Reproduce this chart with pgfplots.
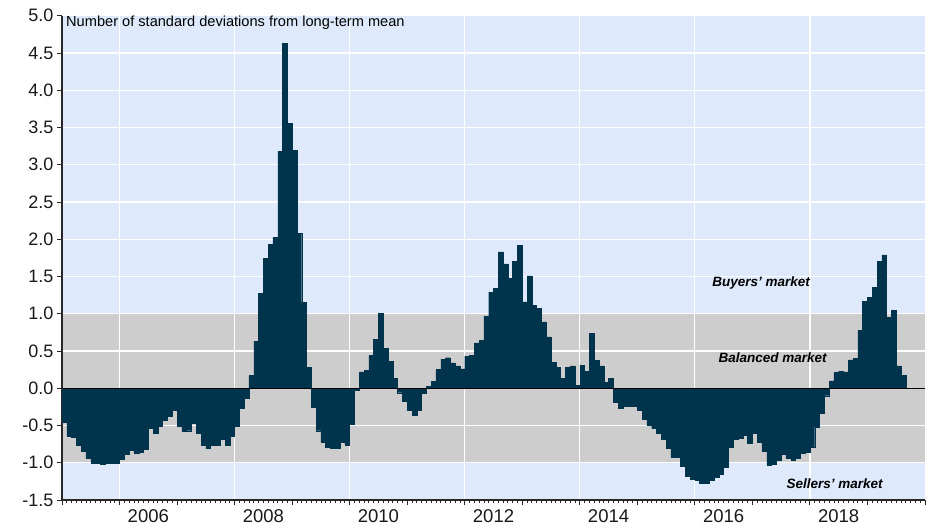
\documentclass[border=0pt]{standalone}
\usepackage{fontspec}
\setmainfont{Liberation Sans}
\usepackage{pgfplots}
\usepackage{pgfplotstable}
\pgfplotsset{compat=1.18}
\definecolor{barc}{RGB}{0,51,76}
\definecolor{lblue}{RGB}{222,234,251}
\definecolor{lgray}{RGB}{205,205,205}
\definecolor{axc}{RGB}{40,40,40}
% monthly values, i = months since Jan 2005
\pgfplotstableread{
i v
0 -0.46
1 -0.64
2 -0.66
3 -0.77
4 -0.85
5 -0.94
6 -1.00
7 -1.00
8 -1.02
9 -1.01
10 -1.00
11 -1.00
12 -0.95
13 -0.89
14 -0.83
15 -0.87
16 -0.86
17 -0.82
18 -0.54
19 -0.60
20 -0.51
21 -0.43
22 -0.37
23 -0.30
24 -0.51
25 -0.58
26 -0.57
27 -0.47
28 -0.60
29 -0.76
30 -0.81
31 -0.76
32 -0.77
33 -0.69
34 -0.77
35 -0.64
36 -0.51
37 -0.27
38 -0.13
39 0.17
40 0.63
41 1.27
42 1.74
43 1.93
44 2.03
45 3.18
46 4.63
47 3.56
48 3.19
49 2.08
50 1.15
51 0.28
52 -0.25
53 -0.57
54 -0.72
55 -0.79
56 -0.81
57 -0.81
58 -0.73
59 -0.76
60 -0.48
61 -0.03
62 0.22
63 0.24
64 0.44
65 0.66
66 1.01
67 0.54
68 0.36
69 0.13
70 -0.06
71 -0.17
72 -0.30
73 -0.36
74 -0.29
75 -0.07
76 0.03
77 0.09
78 0.25
79 0.39
80 0.41
81 0.34
82 0.30
83 0.26
84 0.43
85 0.44
86 0.61
87 0.64
88 0.97
89 1.29
90 1.34
91 1.83
92 1.67
93 1.48
94 1.70
95 1.92
96 1.16
97 1.51
98 1.11
99 1.07
100 0.89
101 0.69
102 0.35
103 0.28
104 0.13
105 0.28
106 0.30
107 0.04
108 0.31
109 0.23
110 0.74
111 0.37
112 0.30
113 0.08
114 0.13
115 -0.19
116 -0.27
117 -0.24
118 -0.24
119 -0.24
120 -0.29
121 -0.41
122 -0.50
123 -0.54
124 -0.60
125 -0.69
126 -0.80
127 -0.92
128 -0.92
129 -1.05
130 -1.18
131 -1.22
132 -1.24
133 -1.27
134 -1.27
135 -1.23
136 -1.20
137 -1.15
138 -1.06
139 -0.79
140 -0.69
141 -0.67
142 -0.63
143 -0.74
144 -0.60
145 -0.72
146 -0.84
147 -1.03
148 -1.02
149 -0.96
150 -0.88
151 -0.94
152 -0.96
153 -0.94
154 -0.87
155 -0.86
156 -0.79
157 -0.52
158 -0.33
159 -0.10
160 0.10
161 0.21
162 0.23
163 0.22
164 0.38
165 0.40
166 0.78
167 1.17
168 1.22
169 1.35
170 1.70
171 1.79
172 0.95
173 1.05
174 0.30
175 0.17
}\data
\begin{document}
\begin{tikzpicture}[x=1pt,y=1pt]
\begin{axis}[
  set layers,
  at={(62pt,27pt)}, anchor=south west,
  width=863pt, height=484.2pt, scale only axis,
  xmin=0, xmax=180, ymin=-1.5, ymax=5,
  axis x line*=bottom, axis y line*=left,
  axis line style={-, line width=1.3pt, color=axc},
  tick align=outside,
  major tick length=5pt, minor tick length=2.5pt,
  tick style={color=axc, line width=1pt},
  minor tick style={line width=0.8pt},
  ytick={-1.5,-1.0,-0.5,0,0.5,1.0,1.5,2.0,2.5,3.0,3.5,4.0,4.5,5.0},
  yticklabel style={font=\fontsize{18}{20}\selectfont, /pgf/number format/fixed, /pgf/number format/fixed zerofill, /pgf/number format/precision=1},
  xtick={0,12,...,180}, xticklabels={},
  minor x tick num=11,
  extra x ticks={18,42,66,90,114,138,162},
  extra x tick labels={2006,2008,2010,2012,2014,2016,2018},
  extra x tick style={major tick length=0pt, grid=none},
  /pgf/number format/assume math mode=true,
  tick label style={text=black!90},
  xticklabel style={font=\fontsize{18.5}{20}\selectfont, yshift=-6pt},
  ymajorgrids,
  major grid style={white, line width=1.2pt},
  clip=false,
]
\begin{pgfonlayer}{axis background}
\fill[lblue] (axis cs:0,-1.5) rectangle (axis cs:180,5);
\fill[lgray] (axis cs:0,-1) rectangle (axis cs:180,1);
\draw[white, line width=1.2pt] (axis cs:12,-1.5) -- (axis cs:12,5);
\draw[white, line width=1.2pt] (axis cs:36,-1.5) -- (axis cs:36,5);
\draw[white, line width=1.2pt] (axis cs:60,-1.5) -- (axis cs:60,5);
\draw[white, line width=1.2pt] (axis cs:84,-1.5) -- (axis cs:84,5);
\draw[white, line width=1.2pt] (axis cs:108,-1.5) -- (axis cs:108,5);
\draw[white, line width=1.2pt] (axis cs:132,-1.5) -- (axis cs:132,5);
\draw[white, line width=1.2pt] (axis cs:156,-1.5) -- (axis cs:156,5);
\end{pgfonlayer}
\addplot[ybar, bar width=1, bar shift=0pt, fill=barc, draw=barc, line width=0.4pt]
  table[x expr=\thisrow{i}+0.5, y=v] {\data};
\draw[black, line width=1pt] (axis cs:0,0) -- (axis cs:180,0);
\node[anchor=base west, inner sep=0pt, font=\fontsize{14.6}{16}\selectfont, xshift=4pt, yshift=-10.5pt]
  at (rel axis cs:0,1) {Number of standard deviations from long-term mean};
\node[anchor=base west, inner sep=0pt, font=\fontsize{13.5}{15}\selectfont\bfseries\itshape]
  at (axis cs:135.6,1.36) {Buyers’ market};
\node[anchor=base west, inner sep=0pt, font=\fontsize{13.5}{15}\selectfont\bfseries\itshape]
  at (axis cs:136.9,0.34) {Balanced market};
\node[anchor=base west, inner sep=0pt, font=\fontsize{13.5}{15}\selectfont\bfseries\itshape]
  at (axis cs:151.1,-1.35) {Sellers’ market};
\end{axis}
\pgfresetboundingbox
\path (0,0) rectangle (928,527);
\end{tikzpicture}
\end{document}
